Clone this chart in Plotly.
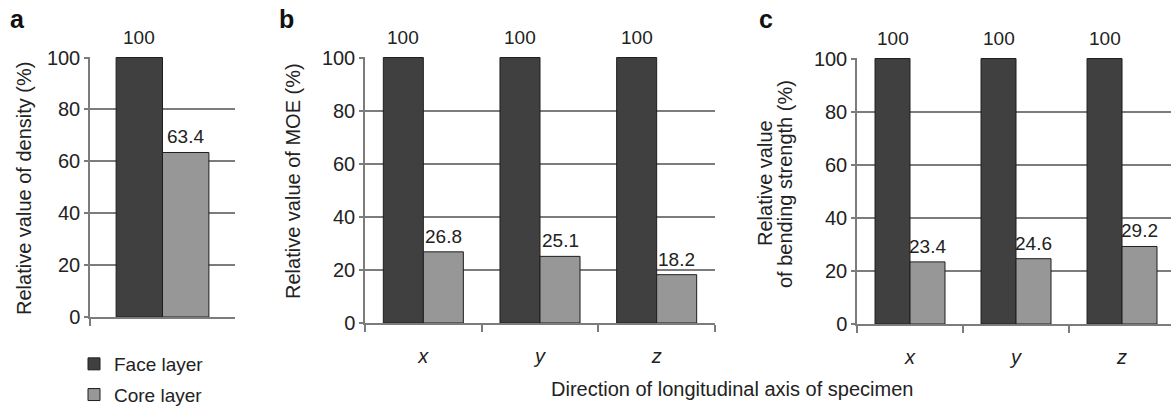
import plotly.graph_objects as go

# Relative values (%) of face and core layers
density_cats = ["density"]
density_face = [100]
density_core = [63.4]

directions = ["x", "y", "z"]
moe_face = [100, 100, 100]
moe_core = [26.8, 25.1, 18.2]
bend_face = [100, 100, 100]
bend_core = [23.4, 24.6, 29.2]

y_ticks = [0, 20, 40, 60, 80, 100]

W, H = 1171, 407
FONT = "Liberation Sans, Arial, sans-serif"
FACE_COL = "#404040"
CORE_COL = "#979797"
EDGE_COL = "#1e1e1e"
GRID_COL = "#7c7c7c"
TEXT_COL = "#222222"


def px_x(v):
    return v / W


def px_y(v):
    return (H - v) / H


panels = [
    # (axis suffix, categories, face, core, bar width, x px span, y px span, x range)
    ("", density_cats, density_face, density_core, 0.32, (90, 235), (57, 317), [-0.5, 0.5]),
    ("2", directions, moe_face, moe_core, 0.343, (365, 715), (57, 323), [-0.5, 2.5]),
    ("3", directions, bend_face, bend_core, 0.33, (857, 1171), (58, 324), [-0.5, 2.462]),
]

fig = go.Figure()
annotations = []
layout = {}

for i, (sfx, cats, face, core, w, xs, ys, xr) in enumerate(panels):
    xa, ya = "x" + sfx, "y" + sfx
    fig.add_trace(go.Bar(
        x=cats, y=face, name="Face layer", xaxis=xa, yaxis=ya,
        width=w, offset=-w, marker=dict(color=FACE_COL, line=dict(color=EDGE_COL, width=1)),
        showlegend=(i == 0), legendgroup="face",
    ))
    fig.add_trace(go.Bar(
        x=cats, y=core, name="Core layer", xaxis=xa, yaxis=ya,
        width=w, offset=0, marker=dict(color=CORE_COL, line=dict(color=EDGE_COL, width=1)),
        showlegend=(i == 0), legendgroup="core",
    ))
    layout["xaxis" + sfx] = dict(
        domain=[px_x(xs[0]), min(px_x(xs[1]), 1.0)], anchor=ya, type="category",
        range=xr, showgrid=False, zeroline=False, showline=True,
        linecolor=GRID_COL, linewidth=1.5, ticks="outside", tickson="boundaries",
        ticklen=7, tickcolor=GRID_COL, tickwidth=1.5,
        showticklabels=(i > 0), ticklabelstandoff=14, automargin=False,
        tickfont=dict(family=FONT, size=20, color=TEXT_COL, style="italic"),
        fixedrange=True,
    )
    layout["yaxis" + sfx] = dict(
        domain=[px_y(ys[1]), px_y(ys[0])], anchor=xa, range=[0, 100.2],
        tickvals=y_ticks, showgrid=True, gridcolor=GRID_COL, gridwidth=1.5,
        zeroline=False, showline=True, linecolor=GRID_COL, linewidth=1.5,
        ticks="outside", ticklen=4, tickcolor=GRID_COL, tickwidth=1.5, automargin=False,
        tickfont=dict(family=FONT, size=20, color=TEXT_COL),
        fixedrange=True,
    )
    # value labels above each bar
    for k in range(len(cats)):
        for val, off in ((face[k], -w / 2), (core[k], w / 2)):
            annotations.append(dict(
                x=k + off, y=val, xref=xa, yref=ya, text=f"{val:g}",
                showarrow=False, yanchor="bottom", yshift=(8 if val >= 100 else 3),
                font=dict(family=FONT, size=19, color=TEXT_COL),
            ))

# panel letters
for letter, lx in (("a", 8), ("b", 277), ("c", 757)):
    annotations.append(dict(
        x=px_x(lx), y=px_y(19), xref="paper", yref="paper", text=f"<b>{letter}</b>",
        showarrow=False, xanchor="left", yanchor="middle",
        font=dict(family=FONT, size=25, color="#111111"),
    ))

# y axis titles
for txt, cx, cy in (
    ("Relative value of density (%)", 24, 189),
    ("Relative value of MOE (%)", 293, 181),
    ("Relative value", 765, 183),
    ("of bending strength (%)", 785, 184),
):
    annotations.append(dict(
        x=px_x(cx), y=px_y(cy), xref="paper", yref="paper", text=txt, textangle=-90,
        showarrow=False, xanchor="center", yanchor="middle",
        font=dict(family=FONT, size=20, color=TEXT_COL),
    ))

# shared x axis title
annotations.append(dict(
    x=px_x(732), y=px_y(389), xref="paper", yref="paper",
    text="Direction of longitudinal axis of specimen",
    showarrow=False, xanchor="center", yanchor="middle",
    font=dict(family=FONT, size=20, color=TEXT_COL),
))

fig.update_layout(
    width=W, height=H, margin=dict(l=0, r=0, t=0, b=0, autoexpand=False),
    paper_bgcolor="white", plot_bgcolor="white",
    barmode="overlay", annotations=annotations,
    legend=dict(
        x=px_x(74), y=px_y(345), xanchor="left", yanchor="top",
        font=dict(family=FONT, size=19, color=TEXT_COL),
        traceorder="grouped", tracegroupgap=3, bgcolor="rgba(0,0,0,0)",
    ),
    **layout,
)

fig.write_html("out.html")
